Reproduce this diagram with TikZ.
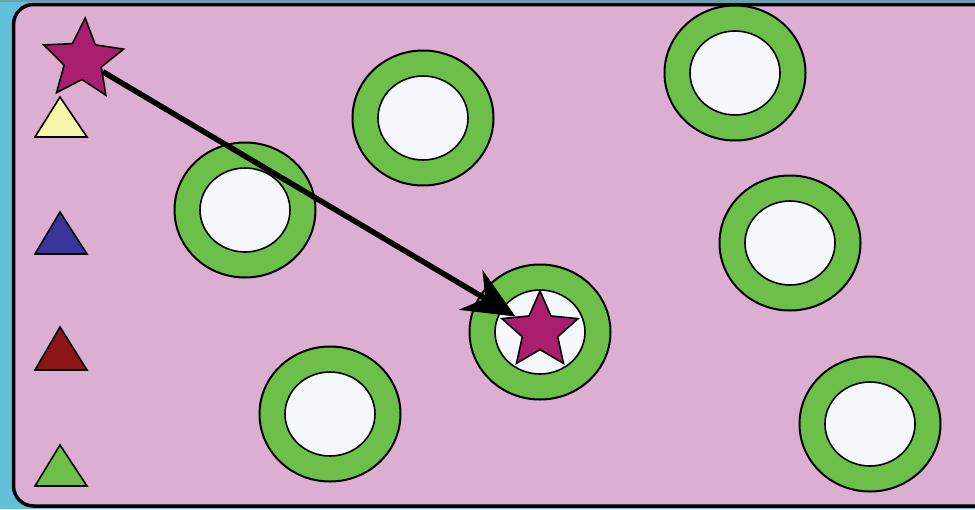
\documentclass[tikz,border=0pt]{standalone}
\usetikzlibrary{shapes.geometric,arrows.meta}
\definecolor{bgpink}{HTML}{DCAED1}
\definecolor{ringgreen}{HTML}{6CBF48}
\definecolor{holewhite}{HTML}{F4F7FB}
\definecolor{starmag}{HTML}{AA1E6E}
\definecolor{tyellow}{HTML}{F8F4A8}
\definecolor{tblue}{HTML}{3B359A}
\definecolor{tred}{HTML}{8C1518}
\definecolor{tgreen}{HTML}{6CBF48}
\definecolor{stripblue}{HTML}{62C0DB}
\definecolor{topteal}{HTML}{6E9EA8}
\tikzset{
  ringouter/.style={draw=black, line width=2pt, fill=ringgreen},
  ringinner/.style={draw=black, line width=1.6pt, fill=holewhite},
  starshape/.style={star, star points=5, star point ratio=2.15, minimum size=84pt, inner sep=0pt, draw=black, line width=1.6pt, fill=starmag},
  tri/.style={draw=black, line width=1.6pt, line join=miter},
}
\begin{document}
\begin{tikzpicture}[x=1pt,y=-1pt]
\useasboundingbox (0,0) rectangle (975,509);
\clip (0,0) rectangle (975,509);
\fill[stripblue] (0,0) rectangle (975,509);
\fill[topteal] (0,0) rectangle (975,2);
\draw[line width=3.5pt, fill=bgpink, rounded corners=20pt] (13.5,4.5) rectangle (1000,506);
% rings
\foreach \cx/\cy in {245/210, 423/118, 735/73, 790/243, 540/332, 330/414, 870/424}{
  \draw[ringouter] (\cx,\cy) ellipse [x radius=70.5, y radius=67.5];
  \draw[ringinner] (\cx,\cy) ellipse [x radius=45, y radius=42];
}
% triangles
\draw[tri, fill=tyellow] (60,97) -- (87,137) -- (35,137) -- cycle;
\draw[tri, fill=tblue] (60,212) -- (87,254) -- (35,254) -- cycle;
\draw[tri, fill=tred] (60,327) -- (87,370) -- (35,370) -- cycle;
\draw[tri, fill=tgreen] (60,445) -- (87,486) -- (35,486) -- cycle;
% stars
\node[starshape, rotate=-3] (s1) at (83,60) {};
\node[starshape, minimum size=80pt] (s2) at (540,331) {};
% arrow
\draw[line width=5.5pt, -{Stealth[length=52pt, width=46pt, inset=17pt]}] (s1) -- (s2);
\end{tikzpicture}
\end{document}
